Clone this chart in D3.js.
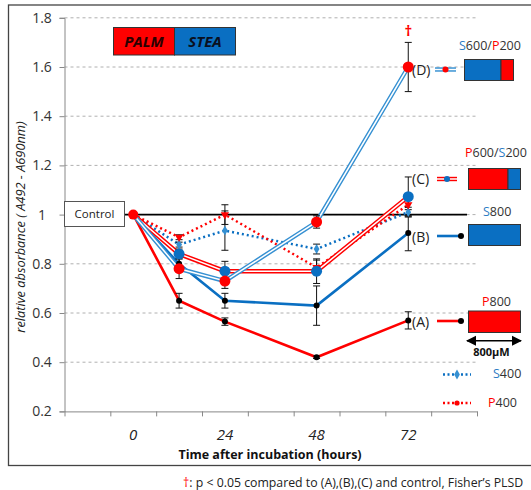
<!DOCTYPE html>
<html><head><meta charset="utf-8">
<script src="https://cdn.jsdelivr.net/npm/d3@7"></script>
<style>body{margin:0;background:#fff}svg{display:block}text{font-family:"Open Sans",sans-serif}</style>
</head><body><svg id="c" width="531" height="490"></svg>
<script>
// ---- data ----
const times = [0, 12, 24, 48, 72];
const xTickLabels = [0, 24, 48, 72];
const yTicks = [0.2, 0.4, 0.6, 0.8, 1, 1.2, 1.4, 1.6, 1.8];
const valA = [1.0, 0.65, 0.565, 0.42, 0.57];   // P800
const errA = [0, 0.03, 0.015, 0.005, 0.035];
const valB = [1.0, 0.80, 0.65, 0.63, 0.925];   // S800
const errB = [0, 0.03, 0.03, 0.08, 0.072];
const valC = [1.0, 0.84, 0.77, 0.77, 1.073];   // P600/S200
const errC = [0, 0.02, 0.04, 0.05, 0.08];
const valD = [1.0, 0.78, 0.73, 0.97, 1.60];    // S600/P200
const errD = [0, 0.04, 0.03, 0.025, 0.10];
const valS4 = [1.0, 0.878, 0.935, 0.86, 1.01]; // S400
const errS4 = [0, 0.01, 0.08, 0.02, 0.02];
const valP4 = [1.0, 0.908, 1.0, 0.785, 1.04];  // P400
const errP4 = [0, 0.01, 0.04, 0.03, 0.02];

const RED = "#ff0000", BLUE = "#0a6fc2", LBLUE = "#3590d2", DARK = "#404040";
const svg = d3.select("#c");

const x = d3.scaleLinear().domain([-18, 90]).range([64.5, 477]);
const y = d3.scaleLinear().domain([0.2, 1.8]).range([411.4, 17.8]);

// outer frame
svg.append("rect").attr("x", 8.5).attr("y", 5).attr("width", 530).attr("height", 460.5)
  .attr("fill", "none").attr("stroke", "#444").attr("stroke-width", 1.3);

// gridlines
svg.append("g").selectAll("line").data(yTicks.filter(d => d > 0.2)).join("line")
  .attr("x1", x(-18)).attr("x2", x(90)).attr("y1", d => y(d)).attr("y2", d => y(d))
  .attr("stroke", "#b0b0b0").attr("stroke-dasharray", "3,3").attr("stroke-width", 1);

// control line
svg.append("line").attr("x1", x(-18)).attr("x2", 467).attr("y1", y(1)).attr("y2", y(1))
  .attr("stroke", "#000").attr("stroke-width", 1.6);

// axes
const yAxis = d3.axisLeft(y).tickValues(yTicks).tickSize(5).tickFormat("");
const gy = svg.append("g").attr("transform", `translate(${x(-18)},0)`).call(yAxis);
gy.select(".domain").attr("stroke", "#888");
gy.selectAll(".tick line").attr("stroke", "#888");
svg.append("g").selectAll("text").data(yTicks).join("text")
  .attr("x", 42).attr("y", d => y(d)).attr("dy", "0.35em").attr("text-anchor", "middle")
  .attr("font-size", 14).attr("fill", "#333").text(d => d3.format("")(d));

const xAxis = d3.axisBottom(x).tickValues(d3.range(-18, 91, 12)).tickSize(5).tickSizeOuter(0).tickFormat("");
const gx = svg.append("g").attr("transform", `translate(0,${y(0.2)})`).call(xAxis);
gx.select(".domain").attr("stroke", "#888");
gx.selectAll(".tick line").attr("stroke", "#888");
svg.append("g").selectAll("text").data(xTickLabels).join("text")
  .attr("x", d => x(d)).attr("y", 435).attr("dy", "0.35em").attr("text-anchor", "middle")
  .attr("font-size", 15).attr("font-style", "italic").attr("fill", "#222").text(d => d);

svg.append("text").attr("x", 270).attr("y", 455).attr("dy", "0.35em").attr("text-anchor", "middle")
  .attr("font-size", 12.5).attr("font-weight", "bold").attr("fill", "#111")
  .text("Time after incubation  (hours)");
svg.append("text").attr("transform", "translate(21,227) rotate(-90)").attr("text-anchor", "middle")
  .attr("dy", "0.35em").attr("font-size", 12.8).attr("font-style", "italic").attr("fill", "#222")
  .text("relative absorbance ( A492 - A690nm)");

// control box
svg.append("rect").attr("x", 64.5).attr("y", 201.5).attr("width", 60).attr("height", 25)
  .attr("fill", "#fff").attr("stroke", "#555").attr("stroke-width", 1);
svg.append("text").attr("x", 94.5).attr("y", 214).attr("dy", "0.35em").attr("text-anchor", "middle")
  .attr("font-size", 11.5).attr("fill", "#222").text("Control");

// PALM/STEA legend box
svg.append("rect").attr("x", 113.5).attr("y", 27.5).attr("width", 61).attr("height", 27.5).attr("fill", RED).attr("stroke", "#333");
svg.append("rect").attr("x", 174.5).attr("y", 27.5).attr("width", 61).attr("height", 27.5).attr("fill", BLUE).attr("stroke", "#333");
svg.append("text").attr("x", 144).attr("y", 41.5).attr("dy", "0.35em").attr("text-anchor", "middle")
  .attr("font-size", 15).attr("font-weight", "bold").attr("font-style", "italic").attr("fill", "#2a0000").text("PALM");
svg.append("text").attr("x", 205).attr("y", 41.5).attr("dy", "0.35em").attr("text-anchor", "middle")
  .attr("font-size", 15).attr("font-weight", "bold").attr("font-style", "italic").attr("fill", "#0a1020").text("STEA");

const line = d3.line().x((d, i) => x(times[i])).y(d => y(d));

function errBars(vals, errs) {
  const g = svg.append("g").attr("stroke", "#111").attr("stroke-width", 1);
  vals.forEach((v, i) => {
    const e = errs[i]; if (!e) return;
    const cx = x(times[i]);
    g.append("line").attr("x1", cx).attr("x2", cx).attr("y1", y(v + e)).attr("y2", y(v - e));
    g.append("line").attr("x1", cx - 3.5).attr("x2", cx + 3.5).attr("y1", y(v + e)).attr("y2", y(v + e));
    g.append("line").attr("x1", cx - 3.5).attr("x2", cx + 3.5).attr("y1", y(v - e)).attr("y2", y(v - e));
  });
}

// dotted series
svg.append("path").attr("d", line(valS4)).attr("fill", "none").attr("stroke", BLUE).attr("stroke-width", 2.5).attr("stroke-dasharray", "2,3");
svg.append("path").attr("d", line(valP4)).attr("fill", "none").attr("stroke", RED).attr("stroke-width", 2.5).attr("stroke-dasharray", "2,3");
// solid series
svg.append("path").attr("d", line(valB)).attr("fill", "none").attr("stroke", BLUE).attr("stroke-width", 2.6);
svg.append("path").attr("d", line(valA)).attr("fill", "none").attr("stroke", RED).attr("stroke-width", 2.6);
// double series
function dbl(vals, col) {
  svg.append("path").attr("d", line(vals)).attr("fill", "none").attr("stroke", col).attr("stroke-width", 4.4);
  svg.append("path").attr("d", line(vals)).attr("fill", "none").attr("stroke", "#fff").attr("stroke-width", 1.5);
}
dbl(valC, RED);
dbl(valD, LBLUE);

[[valA, errA], [valB, errB], [valC, errC], [valD, errD], [valS4, errS4], [valP4, errP4]].forEach(p => errBars(p[0], p[1]));

// markers
const rest = (arr) => arr.slice(1).map((v, i) => ({t: times[i + 1], v}));
svg.append("g").selectAll("path").data(rest(valS4)).join("path")
  .attr("d", d3.symbol(d3.symbolDiamond, 28)).attr("transform", d => `translate(${x(d.t)},${y(d.v)})`).attr("fill", LBLUE);
svg.append("g").selectAll("path").data(rest(valP4)).join("path")
  .attr("d", d3.symbol(d3.symbolTriangle, 30)).attr("transform", d => `translate(${x(d.t)},${y(d.v)}) rotate(180)`).attr("fill", RED);
svg.append("g").selectAll("circle").data(rest(valA).concat(rest(valB))).join("circle")
  .attr("cx", d => x(d.t)).attr("cy", d => y(d.v)).attr("r", 3).attr("fill", "#000");
svg.append("g").selectAll("circle").data(rest(valC)).join("circle")
  .attr("cx", d => x(d.t)).attr("cy", d => y(d.v)).attr("r", 5.5).attr("fill", BLUE);
svg.append("g").selectAll("circle").data(rest(valD)).join("circle")
  .attr("cx", d => x(d.t)).attr("cy", d => y(d.v)).attr("r", 5.5).attr("fill", RED);
svg.append("circle").attr("cx", x(0)).attr("cy", y(1)).attr("r", 5).attr("fill", RED);

// dagger
svg.append("text").attr("x", x(72)).attr("y", 31).attr("dy", "0.35em").attr("text-anchor", "middle")
  .attr("font-size", 15).attr("font-weight", "bold").attr("fill", RED).text("†");

// right-side labels
function lbl(xp, yp, txt, size) {
  svg.append("text").attr("x", xp).attr("y", yp).attr("dy", "0.35em").attr("font-size", size || 14).attr("fill", "#222").text(txt);
}
lbl(412, 70, "(D)"); lbl(412, 179, "(C)"); lbl(412, 237, "(B)"); lbl(412, 322, "(A)");

function colored(xp, yp, parts) {
  const t = svg.append("text").attr("x", xp).attr("y", yp).attr("dy", "0.35em").attr("font-size", 12.5);
  parts.forEach(p => t.append("tspan").attr("fill", p[1]).text(p[0]));
}
const SB = "#2e7cc4", GR = "#333";
colored(459, 46, [["S", SB], ["600/", GR], ["P", RED], ["200", GR]]);
colored(465, 153, [["P", RED], ["600/", GR], ["S", SB], ["200", GR]]);
colored(483, 212, [["S", SB], ["800", GR]]);
colored(482, 302, [["P", RED], ["800", GR]]);
colored(493, 374, [["S", SB], ["400", GR]]);
colored(488, 403, [["P", RED], ["400", GR]]);

// legend line samples
function dblSample(x1, x2, yy, col, dot) {
  svg.append("line").attr("x1", x1).attr("x2", x2).attr("y1", yy).attr("y2", yy).attr("stroke", col).attr("stroke-width", 4.4);
  svg.append("line").attr("x1", x1).attr("x2", x2).attr("y1", yy).attr("y2", yy).attr("stroke", "#fff").attr("stroke-width", 1.5);
  svg.append("circle").attr("cx", (x1 + x2) / 2).attr("cy", yy).attr("r", 3).attr("fill", dot);
}
dblSample(435, 456, 69.5, LBLUE, RED);
dblSample(437, 457, 179, RED, BLUE);
function solidSample(x1, x2, yy, col) {
  svg.append("line").attr("x1", x1).attr("x2", x2).attr("y1", yy).attr("y2", yy).attr("stroke", col).attr("stroke-width", 2.6);
  svg.append("circle").attr("cx", x2).attr("cy", yy).attr("r", 3).attr("fill", "#000");
}
solidSample(437, 461, 236, BLUE);
solidSample(437, 461, 321, RED);
svg.append("line").attr("x1", 443).attr("x2", 471).attr("y1", 374.5).attr("y2", 374.5).attr("stroke", BLUE).attr("stroke-width", 2.5).attr("stroke-dasharray", "2,2.5");
svg.append("path").attr("d", d3.symbol(d3.symbolDiamond, 28)).attr("transform", "translate(457,374.5)").attr("fill", LBLUE);
svg.append("line").attr("x1", 443).attr("x2", 471).attr("y1", 403).attr("y2", 403).attr("stroke", RED).attr("stroke-width", 2.5).attr("stroke-dasharray", "2,2.5");
svg.append("circle").attr("cx", 457).attr("cy", 403).attr("r", 2.6).attr("fill", RED);

// composition boxes
function box(x0, y0, w, h, splits) {
  let cx = x0;
  splits.forEach(s => {
    svg.append("rect").attr("x", cx).attr("y", y0).attr("width", s[0]).attr("height", h).attr("fill", s[1]).attr("stroke", "#333").attr("stroke-width", 1);
    cx += s[0];
  });
}
box(464.5, 59.5, 49, 21, [[36.5, BLUE], [12.5, RED]]);
box(468.5, 168.5, 52, 21, [[39.5, RED], [12.5, BLUE]]);
box(468.5, 224.5, 52, 21, [[52, BLUE]]);
box(468.5, 311, 52, 21.5, [[52, RED]]);

// 800uM arrow
svg.append("defs").append("marker").attr("id", "ah").attr("viewBox", "0 0 10 10").attr("refX", 9).attr("refY", 5)
  .attr("markerWidth", 7).attr("markerHeight", 7).attr("orient", "auto-start-reverse")
  .append("path").attr("d", "M0,0L10,5L0,10z").attr("fill", "#000");
svg.append("line").attr("x1", 467).attr("x2", 521).attr("y1", 340.7).attr("y2", 340.7).attr("stroke", "#000").attr("stroke-width", 1.5)
  .attr("marker-start", "url(#ah)").attr("marker-end", "url(#ah)");
svg.append("text").attr("x", 491.5).attr("y", 352.5).attr("dy", "0.35em").attr("text-anchor", "middle")
  .attr("font-size", 11).attr("font-weight", "bold").attr("fill", "#111").text("800μM");

// footnote
const fn = svg.append("text").attr("x", 183).attr("y", 482.5).attr("dy", "0.35em").attr("font-size", 12.3).attr("fill", "#222");
fn.append("tspan").attr("fill", RED).text("†");
fn.append("tspan").text(":  p < 0.05 compared to (A),(B),(C) and control, Fisher’s PLSD");
</script></body></html>
